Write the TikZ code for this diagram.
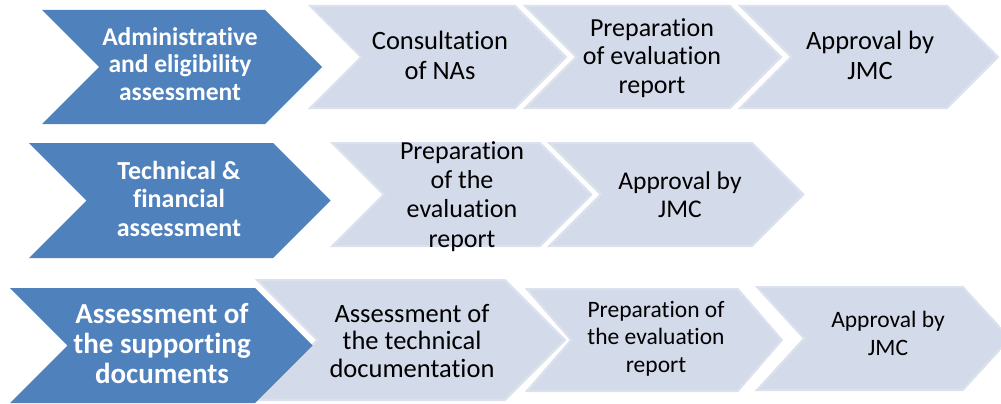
\documentclass[tikz,border=0pt]{standalone}
\usepackage{fontspec}
\setmainfont{Carlito}[Ligatures=NoCommon]
\definecolor{blueA}{HTML}{4F81BD}
\definecolor{lightA}{HTML}{D3DAE9}
\definecolor{lightB}{HTML}{DCE1EE}
% light chevron: xl, xr, ytop, ybottom, depth
\newcommand\lchev[5]{%
  \begin{scope}
    \clip (#1,#3) -- (#2,#3) -- ({#2+#5},{(#3+#4)/2}) -- (#2,#4) -- (#1,#4) -- ({#1+#5},{(#3+#4)/2}) -- cycle;
    \fill[lightA] (#1,#3) rectangle ({#2+#5},#4);
    \draw[lightB, line width=4pt, line join=miter] (#1,#3) -- (#2,#3) -- ({#2+#5},{(#3+#4)/2}) -- (#2,#4) -- (#1,#4) -- ({#1+#5},{(#3+#4)/2}) -- cycle;
  \end{scope}}
% blue chevron
\newcommand\bchev[5]{%
  \fill[blueA] (#1,#3) -- (#2,#3) -- ({#2+#5},{(#3+#4)/2}) -- (#2,#4) -- (#1,#4) -- ({#1+#5},{(#3+#4)/2}) -- cycle;}
\begin{document}
\begin{tikzpicture}[x=1pt,y=-1pt,
  bt/.style={text=white, font=\bfseries\fontsize{25.5}{27.5}\selectfont, align=center, inner sep=0pt, anchor=base},
  lt/.style={text=black, font=\fontsize{26}{29}\selectfont, align=center, inner sep=0pt, anchor=base}]
\useasboundingbox (0,0) rectangle (1001,404);
\clip (0,0) rectangle (1001,404);
\fill[white] (0,0) rectangle (1001,404);
% row 1
\lchev{308}{515}{5}{109}{52}
\lchev{523}{730}{5}{109}{52}
\lchev{738}{947}{5}{109}{52}
\bchev{42}{265}{10}{124}{57}
% row 2
\lchev{330}{540}{142}{247}{52.5}
\lchev{547}{752}{142}{247}{52.5}
\bchev{29}{273}{143}{258}{57.5}
% row 3
\lchev{255}{505}{279}{401}{61}
\lchev{525}{738}{288}{392}{45}
\lchev{755}{963}{286}{391}{48}
\bchev{10}{255}{288}{403}{57.5}
% texts (anchor = baseline of last line)
\node[bt] (b1) at (180,100) {Administrative\\and eligibility\\assessment};
\node[lt, font=\fontsize{26.5}{30}\selectfont] (t11) at (440,80) {Consultation\\of NAs};
\node[lt, font=\fontsize{26}{28.5}\selectfont] (t12) at (652,93) {Preparation\\of evaluation\\report};
\node[lt, font=\fontsize{26.5}{30}\selectfont] (t13) at (870,80) {Approval by\\JMC};
\node[bt, font=\bfseries\fontsize{26}{28.5}\selectfont] (b2) at (179,236) {Technical \&\\financial\\assessment};
\node[lt, font=\fontsize{26}{29.3}\selectfont] (t21) at (462,247) {Preparation\\of the\\evaluation\\report};
\node[lt, font=\fontsize{25.5}{28}\selectfont] (t22) at (680,217) {Approval by\\JMC};
\node[bt, font=\bfseries\fontsize{29}{30}\selectfont] (b3) at (162,383) {Assessment of\\the supporting\\documents};
\node[lt, font=\fontsize{26.5}{27.5}\selectfont] (t31) at (412,377) {Assessment of\\the technical\\documentation};
\node[lt, font=\fontsize{23.5}{27.5}\selectfont] (t32) at (656,372) {Preparation of\\the evaluation\\report};
\node[lt, font=\fontsize{23.5}{28}\selectfont] (t33) at (888,355) {Approval by\\JMC};
\end{tikzpicture}
\end{document}
